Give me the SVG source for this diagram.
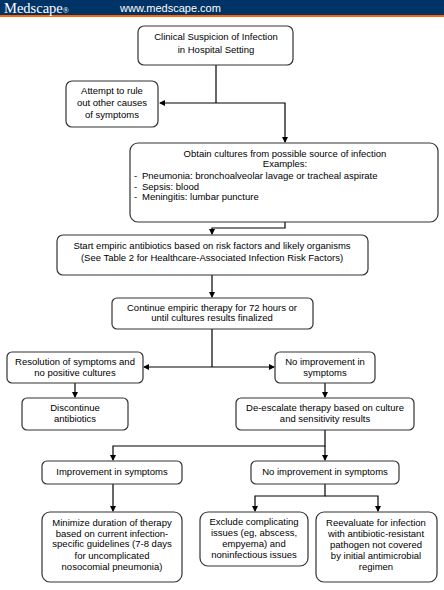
<svg xmlns="http://www.w3.org/2000/svg" width="444" height="590" viewBox="0 0 444 590">
<defs>
<marker id="ah" markerWidth="6" markerHeight="6" refX="5" refY="3" orient="auto" markerUnits="userSpaceOnUse">
<path d="M0,0 L6,3 L0,6 Z" fill="#000"/>
</marker>
<style>
.box{fill:#fff;stroke:#333;stroke-width:1.2}
.t{font-family:"Liberation Sans",Arial,sans-serif;font-size:9.5px;fill:#000;text-anchor:middle}
.tl{font-family:"Liberation Sans",Arial,sans-serif;font-size:9.5px;fill:#000}
.c{fill:none;stroke:#000;stroke-width:1.2}
</style>
</defs>
<rect x="0" y="0" width="444" height="590" fill="#fff"/>
<g id="header">
<rect x="0" y="0" width="444" height="15" fill="#003366"/>
<rect x="0" y="15" width="444" height="2" fill="#ff6600"/>
<text x="4" y="12.5" font-family="Liberation Serif,serif" font-size="14.5" fill="#fff">Medscape<tspan font-size="8">®</tspan></text>
<text x="120" y="12" font-family="Liberation Sans,Arial,sans-serif" font-size="11" fill="#fff">www.medscape.com</text>
</g>
<g id="connectors">
<path class="c" d="M216,65 V103"/>
<path class="c" d="M216,103 H160" marker-end="url(#ah)"/>
<path class="c" d="M216,103 H285 V142" marker-end="url(#ah)"/>
<path class="c" d="M285,222 V228 H212 V234" marker-end="url(#ah)"/>
<path class="c" d="M212,275 V297" marker-end="url(#ah)"/>
<path class="c" d="M212,329 V367"/>
<path class="c" d="M212,367 H144" marker-end="url(#ah)"/>
<path class="c" d="M212,367 H274" marker-end="url(#ah)"/>
<path class="c" d="M75,383 V397" marker-end="url(#ah)"/>
<path class="c" d="M325,383 V397" marker-end="url(#ah)"/>
<path class="c" d="M325,430 V446 H113 V460" marker-end="url(#ah)"/>
<path class="c" d="M325,446 V460" marker-end="url(#ah)"/>
<path class="c" d="M113,484 V511" marker-end="url(#ah)"/>
<path class="c" d="M325,484 V496 H255 V511" marker-end="url(#ah)"/>
<path class="c" d="M325,496 H378 V511" marker-end="url(#ah)"/>
</g>
<g id="n1"><rect class="box" x="138" y="26" width="155" height="39" rx="6"/>
<text class="t" x="216" y="40">Clinical Suspicion of Infection</text>
<text class="t" x="216" y="53">in Hospital Setting</text></g>
<g id="n2"><rect class="box" x="66" y="81" width="92" height="46" rx="6"/>
<text class="t" x="112" y="94">Attempt to rule</text>
<text class="t" x="112" y="106">out other causes</text>
<text class="t" x="112" y="118">of symptoms</text></g>
<g id="n3"><rect class="box" x="130" y="143" width="308" height="79" rx="8"/>
<text class="t" x="285" y="157">Obtain cultures from possible source of infection</text>
<text class="t" x="285" y="167">Examples:</text>
<text class="tl" y="179"><tspan x="134">-</tspan><tspan x="142">Pneumonia: bronchoalveolar lavage or tracheal aspirate</tspan></text>
<text class="tl" y="190"><tspan x="134">-</tspan><tspan x="142">Sepsis: blood</tspan></text>
<text class="tl" y="200"><tspan x="134">-</tspan><tspan x="142">Meningitis: lumbar puncture</tspan></text></g>
<g id="n4"><rect class="box" x="57" y="235" width="311" height="40" rx="6"/>
<text class="t" x="212" y="249">Start empiric antibiotics based on risk factors and likely organisms</text>
<text class="t" x="212" y="261">(See Table 2 for Healthcare-Associated Infection Risk Factors)</text></g>
<g id="n5"><rect class="box" x="112" y="298" width="201" height="31" rx="5"/>
<text class="t" x="212" y="311">Continue empiric therapy for 72 hours or</text>
<text class="t" x="212" y="321">until cultures results finalized</text></g>
<g id="n6"><rect class="box" x="7" y="352" width="136" height="31" rx="5"/>
<text class="t" x="75" y="365">Resolution of symptoms and</text>
<text class="t" x="75" y="376">no positive cultures</text></g>
<g id="n7"><rect class="box" x="275" y="352" width="100" height="31" rx="5"/>
<text class="t" x="325" y="365">No improvement in</text>
<text class="t" x="325" y="376">symptoms</text></g>
<g id="n8"><rect class="box" x="22" y="398" width="106" height="32" rx="5"/>
<text class="t" x="75" y="411">Discontinue</text>
<text class="t" x="75" y="422">antibiotics</text></g>
<g id="n9"><rect class="box" x="236" y="398" width="178" height="32" rx="5"/>
<text class="t" x="325" y="411">De-escalate therapy based on culture</text>
<text class="t" x="325" y="422">and sensitivity results</text></g>
<g id="n10"><rect class="box" x="42" y="461" width="140" height="23" rx="5"/>
<text class="t" x="112" y="475">Improvement in symptoms</text></g>
<g id="n11"><rect class="box" x="251" y="461" width="148" height="23" rx="5"/>
<text class="t" x="325" y="475">No improvement in symptoms</text></g>
<g id="n12"><rect class="box" x="42" y="512" width="140" height="70" rx="8"/>
<text class="t" x="112" y="526">Minimize duration of therapy</text>
<text class="t" x="112" y="537">based on current infection-</text>
<text class="t" x="112" y="547">specific guidelines (7-8 days</text>
<text class="t" x="112" y="559">for uncomplicated</text>
<text class="t" x="112" y="570">nosocomial pneumonia)</text></g>
<g id="n13"><rect class="box" x="200" y="512" width="108" height="54" rx="8"/>
<text class="t" x="254" y="525">Exclude complicating</text>
<text class="t" x="254" y="536">issues (eg, abscess,</text>
<text class="t" x="254" y="547">empyema) and</text>
<text class="t" x="254" y="558">noninfectious issues</text></g>
<g id="n14"><rect class="box" x="316" y="512" width="121" height="70" rx="8"/>
<text class="t" x="376" y="526">Reevaluate for infection</text>
<text class="t" x="376" y="537">with antibiotic-resistant</text>
<text class="t" x="376" y="548">pathogen not covered</text>
<text class="t" x="376" y="559">by initial antimicrobial</text>
<text class="t" x="376" y="570">regimen</text></g>
</svg>
